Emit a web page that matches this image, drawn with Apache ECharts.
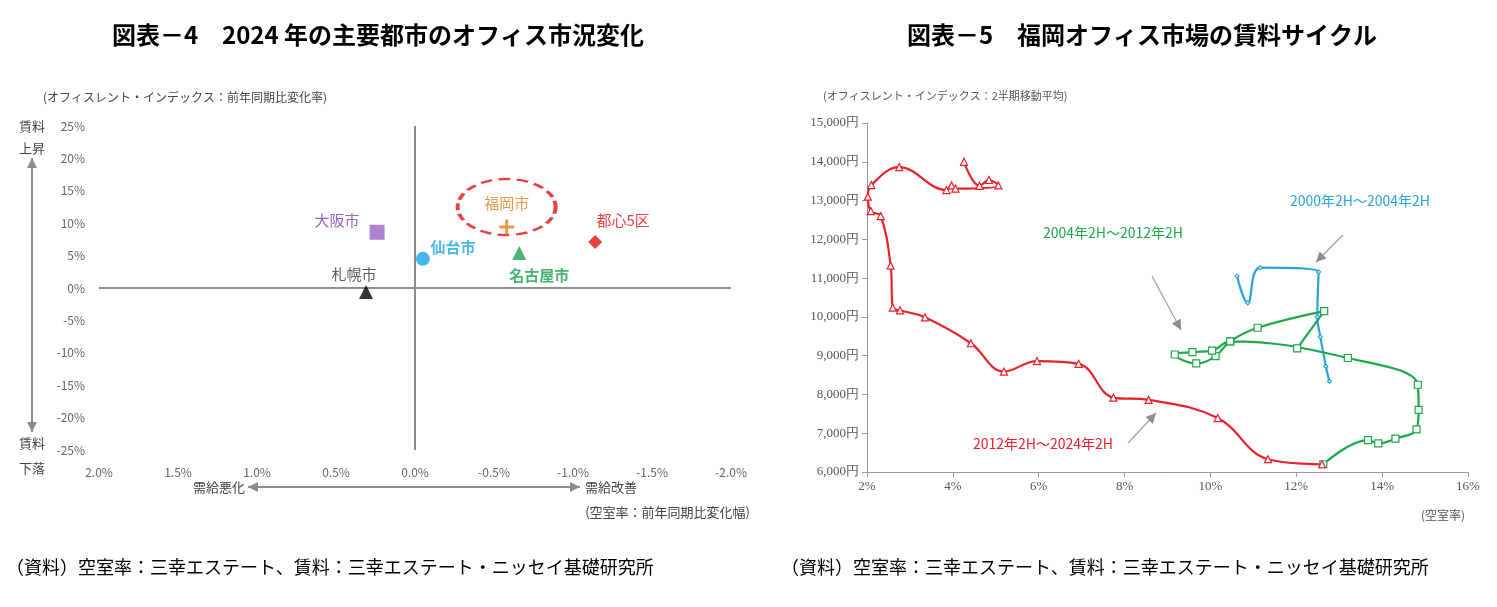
<!DOCTYPE html>
<html><head><meta charset="utf-8">
<script src="https://cdn.jsdelivr.net/npm/echarts@6/dist/echarts.min.js"></script>
<style>body{margin:0;background:#fff}#c{width:1497px;height:607px}</style>
</head><body><div id="c"></div>
<script>
// 図表4: 空室率変化幅(x) / 賃料変化率(y)
var cityNames = ['大阪市', '仙台市', '札幌市', '福岡市', '名古屋市', '都心5区'];
var cityX = [0.24, -0.05, 0.31, -0.58, -0.66, -1.14];
var cityY = [8.6, 4.5, -0.6, 9.4, 5.4, 7.1];
var citySymbol = ['rect', 'circle', 'triangle', 'path://M4,0H6V4H10V6H6V10H4V6H0V4H4Z', 'triangle', 'diamond'];
var cityColor = ['#9e63c9', '#1aa3e8', '#000000', '#d9821e', '#18a04f', '#e01010'];
var cityLabelPos = [[-40, -12], [30, -12], [-12, -18], [0, -24], [20, 22], [28, -22]];
var cityBold = [false, true, false, false, true, false];

// 図表5: 空室率(%) / 賃料(円)
var blueX = [10.62, 10.87, 11.16, 12.52, 12.49, 12.56, 12.69, 12.77];
var blueY = [11050, 10360, 11270, 11160, 10000, 9490, 8720, 8340];
var greenX = [12.02, 12.65, 11.10, 10.46, 10.12, 9.67, 9.17, 9.58, 10.04, 10.46, 13.20, 14.83, 14.85, 14.80, 14.31, 13.91, 13.67, 12.63];
var greenY = [9190, 10150, 9720, 9370, 8990, 8800, 9030, 9090, 9130, 9370, 8940, 8250, 7600, 7100, 6860, 6740, 6820, 6200];
var redX = [12.60, 11.34, 10.17, 8.56, 7.74, 6.93, 5.96, 5.19, 4.42, 3.35, 2.77, 2.60, 2.55, 2.32, 2.09, 2.02, 2.10, 2.75, 3.85, 3.97, 4.06, 5.06, 4.84, 4.62, 4.26];
var redY = [6200, 6330, 7390, 7860, 7920, 8790, 8860, 8590, 9320, 9990, 10170, 10240, 11320, 12600, 12730, 13100, 13400, 13860, 13270, 13390, 13310, 13390, 13530, 13380, 14000];

function zip(a, b) { return a.map(function (v, i) { return [v, b[i]]; }); }

var chart = echarts.init(document.getElementById('c'));
var grey = '#8c8c8c';
var txt = { fontFamily: 'Noto Sans CJK JP' };

function arrow(x1, y1, x2, y2, both) {
  var out = [{ type: 'line', shape: { x1: x1, y1: y1, x2: x2, y2: y2 }, style: { stroke: grey, lineWidth: 2 } }];
  function head(xa, ya, xb, yb) {
    var a = Math.atan2(yb - ya, xb - xa), L = 10, w = 5;
    var bx = xb - L * Math.cos(a), by = yb - L * Math.sin(a);
    out.push({ type: 'polygon', shape: { points: [[xb, yb], [bx + w * Math.sin(a), by - w * Math.cos(a)], [bx - w * Math.sin(a), by + w * Math.cos(a)]] }, style: { fill: grey } });
  }
  head(x1, y1, x2, y2);
  if (both) head(x2, y2, x1, y1);
  return out;
}
function label(x, y, text, size, color, align, bold) {
  return { type: 'text', x: x, y: y, style: { text: text, fontSize: size, fill: color, align: align || 'left', verticalAlign: 'middle', fontWeight: bold ? 'bold' : 'normal', fontFamily: 'Noto Sans CJK JP' } };
}
function thinArrow(x1, y1, x2, y2) {
  var a = arrow(x1, y1, x2, y2, false);
  a[0].style.lineWidth = 1.2; a[0].style.stroke = '#a0a0a0';
  return a;
}

var citySeries = cityNames.map(function (n, i) {
  return {
    type: 'scatter', xAxisIndex: 0, yAxisIndex: 0, symbol: citySymbol[i],
    symbolSize: i === 3 ? 15 : (i === 0 ? 15 : 14),
    itemStyle: { color: cityColor[i] },
    data: [[cityX[i], cityY[i]]],
    label: { show: true, formatter: n, position: 'inside', offset: cityLabelPos[i], color: cityColor[i] === '#000000' ? '#333' : (i === 0 ? '#7b3fae' : cityColor[i]), fontSize: 15, fontWeight: cityBold[i] ? 'bold' : 'normal', fontFamily: 'Noto Sans CJK JP' },
    z: 5
  };
});
citySeries.push({
  type: 'scatter', xAxisIndex: 0, yAxisIndex: 0, symbol: 'circle', symbolSize: [98, 56],
  data: [[cityX[3], 12.5]], silent: true,
  itemStyle: { color: 'rgba(0,0,0,0)', borderColor: '#e01010', borderWidth: 3, borderType: [9, 5] },
  markLine: {
    silent: true, symbol: 'none', label: { show: false },
    lineStyle: { color: grey, type: 'solid', width: 2 },
    data: [{ xAxis: 0 }, { yAxis: 0 }]
  }
});

function line(x, y, color, symbol, size) {
  return {
    type: 'line', xAxisIndex: 1, yAxisIndex: 1, smooth: 0.4, data: zip(x, y),
    symbol: symbol, symbolSize: size,
    lineStyle: { color: color, width: 2.2 },
    itemStyle: { color: '#fff', borderColor: color, borderWidth: 1.2 }
  };
}

chart.setOption({
  animation: false,
  textStyle: txt,
  grid: [
    { left: 99, width: 632, top: 126, height: 324 },
    { left: 867, width: 601, top: 123, height: 349 }
  ],
  xAxis: [
    { type: 'value', gridIndex: 0, min: -2, max: 2, interval: 0.5, inverse: true,
      axisLine: { show: false }, axisTick: { show: false }, splitLine: { show: false },
      axisLabel: { color: '#666', fontSize: 12, margin: 16, formatter: function (v) { return v.toFixed(1) + '%'; } } },
    { type: 'value', gridIndex: 1, min: 2, max: 16, interval: 2,
      axisLine: { lineStyle: { color: '#999' } }, axisTick: { lineStyle: { color: '#999' } }, splitLine: { show: false },
      axisLabel: { color: '#555', fontSize: 13, fontFamily: 'Liberation Serif', formatter: '{value}%' } }
  ],
  yAxis: [
    { type: 'value', gridIndex: 0, min: -25, max: 25, interval: 5,
      axisLine: { show: false }, axisTick: { show: false }, splitLine: { show: false },
      axisLabel: { color: '#666', fontSize: 12, margin: 14, formatter: '{value}%' } },
    { type: 'value', gridIndex: 1, min: 6000, max: 15000, interval: 1000,
      axisLine: { show: true, lineStyle: { color: '#999' } }, axisTick: { show: true, lineStyle: { color: '#999' } }, splitLine: { show: false },
      axisLabel: { color: '#555', fontSize: 13, fontFamily: 'Liberation Serif', formatter: function (v) { return v.toLocaleString('en-US') + '円'; } } }
  ],
  series: citySeries.concat([
    line(blueX, blueY, '#29a3db', 'diamond', 4),
    line(greenX, greenY, '#1ea84c', 'rect', 7),
    line(redX, redY, '#e8212b', 'triangle', 7)
  ]),
  graphic: [
    label(378, 35, '図表－4　2024 年の主要都市のオフィス市況変化', 24, '#000', 'center', true),
    label(1142, 35, '図表－5　福岡オフィス市場の賃料サイクル', 24, '#000', 'center', true),
    label(6, 567, '（資料）空室率：三幸エステート、賃料：三幸エステート・ニッセイ基礎研究所', 18, '#000'),
    label(781, 567, '（資料）空室率：三幸エステート、賃料：三幸エステート・ニッセイ基礎研究所', 18, '#000'),
    label(43, 97, '(オフィスレント・インデックス：前年同期比変化率)', 12, '#444'),
    label(19, 126, '賃料', 13, '#444'), label(19, 148, '上昇', 13, '#444'),
    label(19, 443, '賃料', 13, '#444'), label(19, 468, '下落', 13, '#444'),
    label(245, 487, '需給悪化', 13, '#444', 'right'), label(585, 487, '需給改善', 13, '#444'),
    label(750, 512, '(空室率：前年同期比変化幅)', 13, '#444', 'right'),
    label(823, 96, '(オフィスレント・インデックス：2半期移動平均)', 11, '#555'),
    label(1465, 515, '(空室率)', 12, '#555', 'right'),
    label(1360, 201, '2000年2H～2004年2H', 14, '#29a3db', 'center'),
    label(1113, 233, '2004年2H～2012年2H', 14, '#1ea84c', 'center'),
    label(1043, 444, '2012年2H～2024年2H', 14, '#e8212b', 'center')
  ].concat(arrow(32, 158, 32, 432, true), arrow(248, 487, 580, 487, true),
    thinArrow(1343, 235, 1316, 262), thinArrow(1152, 276, 1181, 330), thinArrow(1128, 443, 1156, 413))
});
</script></body></html>
